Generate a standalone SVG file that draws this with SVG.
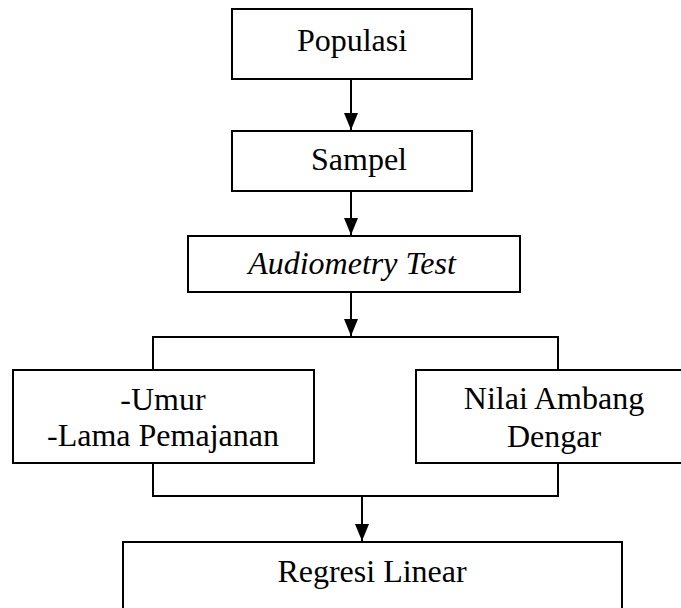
<svg xmlns="http://www.w3.org/2000/svg" width="681" height="608" viewBox="0 0 681 608">
<defs>
<style>
.box{fill:#fff;stroke:#000;stroke-width:2}
.ln{fill:none;stroke:#000;stroke-width:2}
</style>
<marker id="ah" markerWidth="17" markerHeight="14" refX="17" refY="7" orient="auto" markerUnits="userSpaceOnUse" viewBox="0 0 17 14">
<path d="M0,0 L17,7 L0,14 Z" fill="#000"/>
</marker>
</defs>
<rect width="681" height="608" fill="#fff"/>
<g id="connectors">
<line class="ln" x1="351" y1="79" x2="351" y2="130" marker-end="url(#ah)"/>
<line class="ln" x1="351" y1="191" x2="351" y2="235" marker-end="url(#ah)"/>
<line class="ln" x1="351" y1="292" x2="351" y2="336" marker-end="url(#ah)"/>
<polyline class="ln" points="153,370 153,337 558,337 558,370"/>
<polyline class="ln" points="153,463 153,496 558,496 558,463"/>
<line class="ln" x1="362" y1="496" x2="362" y2="541" marker-end="url(#ah)"/>
</g>
<g font-family="Liberation Serif, Times New Roman, DejaVu Serif, serif" font-size="32" fill="#000" text-anchor="middle">
<g id="populasi">
<rect class="box" x="232" y="9" width="240" height="70"/>
<text x="352" y="51">Populasi</text>
</g>
<g id="sampel">
<rect class="box" x="232" y="131" width="240" height="60"/>
<text x="359" y="170">Sampel</text>
</g>
<g id="audiometry">
<rect class="box" x="188" y="236" width="332" height="56"/>
<text x="352" y="274" font-style="italic">Audiometry Test</text>
</g>
<g id="umur">
<rect class="box" x="13" y="370" width="301" height="93"/>
<text x="163" y="410">-Umur</text>
<text x="163" y="446">-Lama Pemajanan</text>
</g>
<g id="nilai">
<rect class="box" x="416" y="370" width="276" height="93"/>
<text x="554" y="409">Nilai Ambang</text>
<text x="554" y="447">Dengar</text>
</g>
<g id="regresi">
<rect class="box" x="123" y="542" width="499" height="80"/>
<text x="372" y="582">Regresi Linear</text>
</g>
</g>
</svg>
